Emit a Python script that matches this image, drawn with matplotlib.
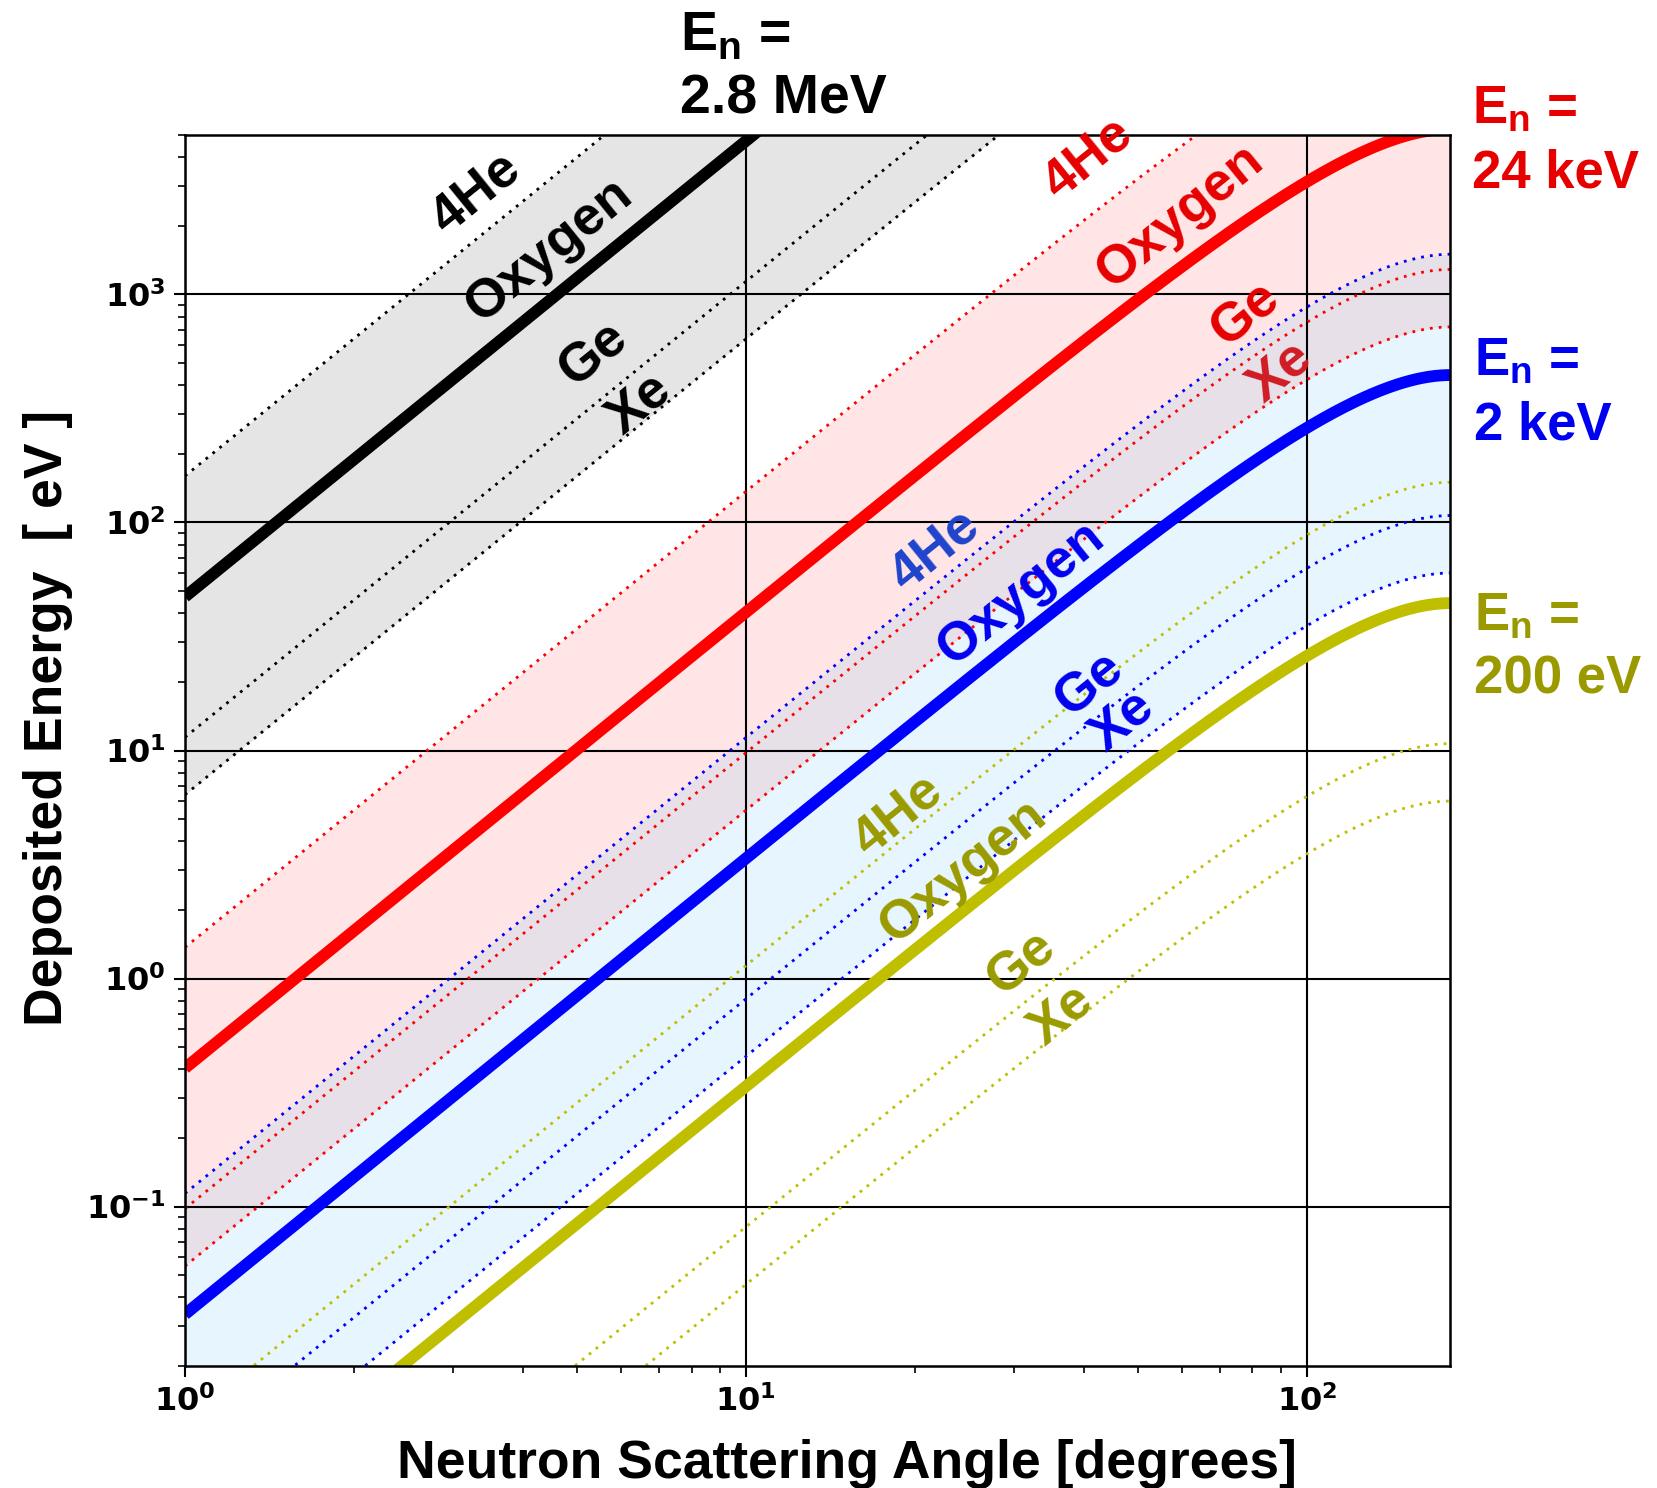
import numpy as np
import matplotlib
matplotlib.use('Agg')
import matplotlib.pyplot as plt
from matplotlib.ticker import NullFormatter

# Энергии нейтронов [эВ] и ядра мишени
NEUTRON_ENERGY = [2.8e6, 24e3, 2e3, 200.0]
ENERGY_TEXT = ['2.8 MeV', '24 keV', '2 keV', '200 eV']
TARGETS = ['4He', 'Oxygen', 'Ge', 'Xe']
TARGET_MASS = [3.0, 16.0, 72.6, 131.3]  # в массах нейтрона

ANGLE_MIN = 1.0
ANGLE_MAX = 180.0

# Оформление
W, H = 1657, 1488
LINE_COLORS = ['black', '#ff0000', '#0000ff', '#bfbf00']
TEXT_COLORS = ['black', '#e60000', '#0000f0', '#9a9a00']
FILL_COLORS = ['gray', 'red', 'lightskyblue', None]
FILL_ALPHA = [0.2, 0.1, 0.2, 0.0]
LABEL_ROTATION = 39

# Подписи ядер (угол, энергия)
LABEL_POS = [
    [(3.29, 2780), (4.46, 1565), (5.35, 550), (6.44, 330)],
    [(40.6, 3960), (59.5, 2200), (77.8, 817), (89.8, 459)],
    [(21.7, 75), (31.0, 49), (41.0, 19.6), (46.9, 13.5)],
    [(18.6, 5.2), (24.4, 2.97), (31.0, 1.17), (36.5, 0.69)],
]
LABEL_COLOR_OVERRIDE = {(1, 3): '#d01c24', (2, 0): '#1f43cc'}

# Подписи E_n (пиксели: левый край, базовая линия 1-й и 2-й строки, размер)
EN_POS = [(680, 50, 113, 40), (1472, 123, 188, 38),
          (1474, 375, 440, 38), (1474, 630, 693, 38)]

plt.rcParams['font.family'] = ['Liberation Sans', 'DejaVu Sans']
plt.rcParams['font.weight'] = 'bold'


def recoil_energy(e_n, a, theta_deg):
    """Энергия отдачи ядра при рассеянии нейтрона на угол theta"""
    return e_n * 2 * a / (1 + a) ** 2 * (1 - np.cos(np.radians(theta_deg)))


def fig_xy(px, py):
    return px / W, 1 - py / H


fig = plt.figure(figsize=(W / 100, H / 100), dpi=100)
ax = fig.add_axes([185 / W, 1 - 1366 / H, 1265 / W, 1231 / H])

theta = np.geomspace(ANGLE_MIN, ANGLE_MAX, 600)

for i, e_n in enumerate(NEUTRON_ENERGY):
    curves = [recoil_energy(e_n, a, theta) for a in TARGET_MASS]

    if FILL_COLORS[i] is not None:
        ax.fill_between(theta, curves[0], curves[-1], color=FILL_COLORS[i],
                        alpha=FILL_ALPHA[i], lw=0, zorder=1.5)

    for j, curve in enumerate(curves):
        if TARGETS[j] == 'Oxygen':
            ax.plot(theta, curve, color=LINE_COLORS[i], lw=8.5,
                    solid_capstyle='butt', zorder=2)
        else:
            ax.plot(theta, curve, color=LINE_COLORS[i], lw=2,
                    ls=(0, (1, 2.2)), zorder=2)

        color = LABEL_COLOR_OVERRIDE.get((i, j), TEXT_COLORS[i])
        x, y = LABEL_POS[i][j]
        ax.text(x, y, TARGETS[j], rotation=LABEL_ROTATION, rotation_mode='anchor',
                ha='center', va='center', fontsize=39, color=color, zorder=3)

    # E_n = ...
    px, py1, py2, size = EN_POS[i]
    fig.text(*fig_xy(px, py1), r'E$_\mathdefault{n}$ =', fontsize=size,
             ha='left', va='baseline', color=TEXT_COLORS[i])
    fig.text(*fig_xy(px, py2), ENERGY_TEXT[i], fontsize=size,
             ha='left', va='baseline', color=TEXT_COLORS[i])

ax.set_xscale('log')
ax.set_yscale('log')
ax.set_xlim(ANGLE_MIN, ANGLE_MAX)
ax.set_ylim(0.02, 5000)

ax.grid(True, which='major', color='black', lw=1.5, zorder=1.6)
ax.xaxis.set_minor_formatter(NullFormatter())
ax.yaxis.set_minor_formatter(NullFormatter())
ax.tick_params(which='major', length=8, width=1.5, labelsize=23, pad=6,
               labelfontfamily='DejaVu Sans')
ax.tick_params(which='minor', length=5, width=1.2)
for sp in ax.spines.values():
    sp.set_linewidth(1.8)

ax.set_xlabel('Neutron Scattering Angle [degrees]', fontsize=38.5,
              fontweight='bold', va='baseline')
ax.xaxis.set_label_coords(0.523, (1366 - 1478) / 1231)
ax.set_ylabel('Deposited Energy  [ eV ]', fontsize=38.5,
              fontweight='bold', va='baseline')
ax.yaxis.set_label_coords((62 - 185) / 1265, 0.5267)

fig.savefig('out.png', dpi=100)
